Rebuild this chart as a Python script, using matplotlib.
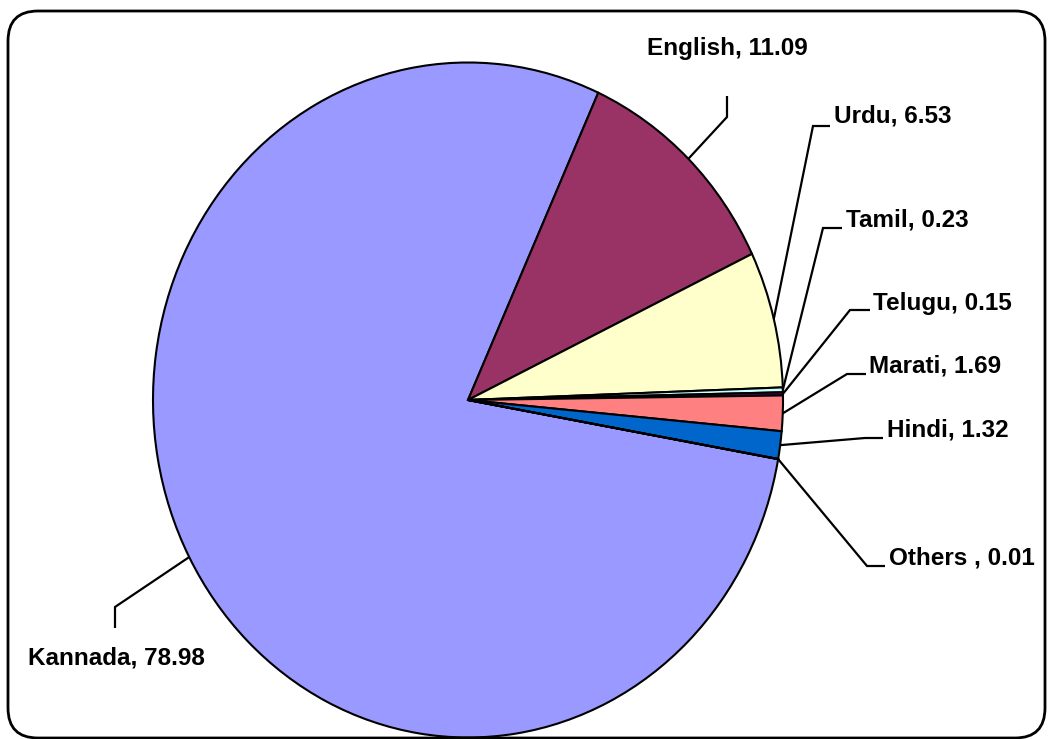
import numpy as np
import matplotlib
matplotlib.use("Agg")
import matplotlib.pyplot as plt
from matplotlib.patches import FancyBboxPatch

# ---- data ----
languages = ["Kannada", "English", "Urdu", "Tamil", "Telugu", "Marati", "Hindi", "Others "]
shares = [78.98, 11.09, 6.53, 0.23, 0.15, 1.69, 1.32, 0.01]
share_labels = ["78.98", "11.09", "6.53", "0.23", "0.15", "1.69", "1.32", "0.01"]
colors = ["#9999FF", "#993366", "#FFFFCC", "#CCFFFF", "#660066", "#FF8080", "#0066CC", "#CCCCFF"]

# ---- layout (pixel coordinates, origin top-left) ----
W, H = 1048, 739
CX, CY, RX, RY = 468, 400, 315, 337.5
# per label: elbow point, line end point, text anchor (x, baseline), horizontal alignment
label_layout = [
    ((115, 607), (115, 628), (116, 664), "center"),
    ((727, 117), (727, 96), (727, 55), "center"),
    ((813, 126), (830, 126), (834, 123), "left"),
    ((823, 228), (842, 228), (846, 227), "left"),
    ((850, 310), (870, 310), (873, 310), "left"),
    ((847, 374), (866, 374), (869, 373), "left"),
    ((865, 438), (883, 438), (887, 437), "left"),
    ((867, 566), (885, 566), (889, 565), "left"),
]

fig = plt.figure(figsize=(W / 100, H / 100), dpi=100)
fig.patch.set_facecolor("white")

ax = fig.add_axes([0, 0, 1, 1])
wedges, _ = ax.pie(shares, colors=colors, startangle=-10.1, counterclock=False,
                   wedgeprops=dict(edgecolor="black", linewidth=1.5))
ax.set_aspect("auto")
ax.set_xlim(-CX / RX, (W - CX) / RX)
ax.set_ylim(-(H - CY) / RY, CY / RY)
ax.axis("off")

# overlay axes in pixel coordinates
ov = fig.add_axes([0, 0, 1, 1], facecolor="none")
ov.set_xlim(0, W)
ov.set_ylim(H, 0)
ov.axis("off")

to_px = ax.transData + ov.transData.inverted()

for w, name, val, (elbow, end, tpos, ha) in zip(wedges, languages, share_labels, label_layout):
    mid = np.deg2rad((w.theta1 + w.theta2) / 2)
    ex, ey = to_px.transform((np.cos(mid), np.sin(mid)))
    ov.plot([ex, elbow[0], end[0]], [ey, elbow[1], end[1]], color="black", lw=1.6,
            solid_capstyle="butt", solid_joinstyle="miter")
    ov.text(tpos[0], tpos[1], f"{name}, {val}", ha=ha, va="baseline",
            fontsize=17.5, fontweight="bold", family=["Liberation Sans", "DejaVu Sans"],
            color="black")

# rounded chart frame
frame = FancyBboxPatch((8, 11), 1037, 727, boxstyle="round,pad=0,rounding_size=30",
                       fill=False, edgecolor="black", linewidth=2.0, clip_on=False)
ov.add_patch(frame)

fig.savefig("out.png", dpi=100, facecolor="white")
